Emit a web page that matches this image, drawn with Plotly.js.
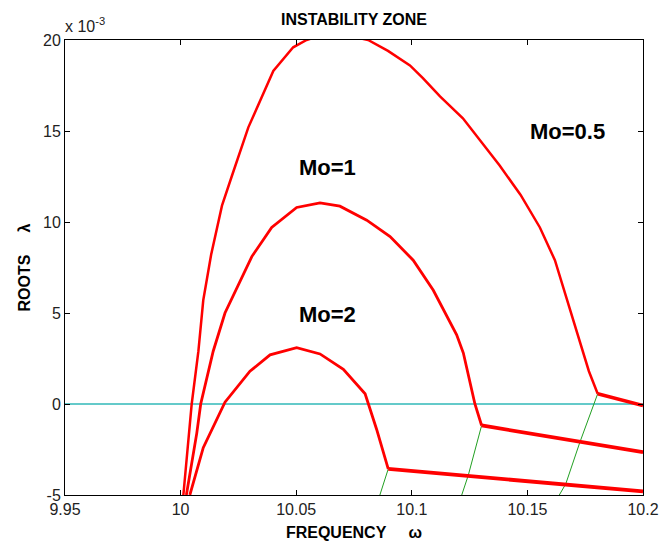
<!DOCTYPE html>
<html>
<head>
<meta charset="utf-8">
<script src="https://cdn.plot.ly/plotly-3.0.1.min.js"></script>
<style>html,body{margin:0;padding:0;background:#fff;}#chart{width:660px;height:545px;}</style>
</head>
<body>
<div id="chart"></div>
<script>
// Frequency (omega) and roots (lambda, in units of 1e-3)
const mo05Omega = [10.0012, 10.0048, 10.0077, 10.0098, 10.0132, 10.0179, 10.0221, 10.0293, 10.0401, 10.0487, 10.0545, 10.062, 10.070, 10.0811, 10.0897, 10.0992, 10.1048, 10.1122, 10.1221, 10.1295, 10.1380, 10.1470, 10.1554, 10.1619, 10.1671, 10.1719, 10.1766, 10.1804];
const mo05Lambda = [-5, 0, 2.9, 5.7, 8.2, 10.9, 12.5, 15.2, 18.3, 19.6, 20.0, 20.3, 20.3, 20.0, 19.4, 18.6, 17.9, 16.9, 15.7, 14.5, 13.1, 11.5, 9.7, 7.9, 5.7, 3.8, 1.8, 0.56];
const mo05TailOmega = [10.1804, 10.2];
const mo05TailLambda = [0.56, -0.08];

const mo1Omega = [10.0025, 10.007, 10.0087, 10.0141, 10.0192, 10.0308, 10.0394, 10.0502, 10.0603, 10.0689, 10.0805, 10.0906, 10.1006, 10.1093, 10.1194, 10.1223, 10.1273, 10.1302];
const mo1Lambda = [-5, -1.6, 0, 2.9, 5.0, 8.1, 9.7, 10.8, 11.05, 10.87, 10.1, 9.2, 7.9, 6.25, 3.8, 2.8, 0, -1.18];
const mo1TailOmega = [10.1302, 10.2];
const mo1TailLambda = [-1.18, -2.65];

const mo2Omega = [10.004, 10.0098, 10.0192, 10.030, 10.0387, 10.0502, 10.0603, 10.0704, 10.0798, 10.0848, 10.0898];
const mo2Lambda = [-5, -2.4, 0.1, 1.8, 2.7, 3.1, 2.75, 1.9, 0.56, -1.4, -3.57];
const mo2TailOmega = [10.0898, 10.2];
const mo2TailLambda = [-3.57, -4.8];

const green1Omega = [10.0898, 10.0862];
const green1Lambda = [-3.57, -5];
const green2Omega = [10.1302, 10.1244, 10.1216];
const green2Lambda = [-1.18, -3.93, -5];
const green3Omega = [10.1804, 10.1727, 10.1666, 10.1638];
const green3Lambda = [0.56, -2.1, -4.39, -5];

const zeroOmega = [9.95, 10.2];
const zeroLambda = [0, 0];

const xTicks = [9.95, 10, 10.05, 10.1, 10.15, 10.2];
const xTickText = ['9.95', '10', '10.05', '10.1', '10.15', '10.2'];
const yTicks = [-5, 0, 5, 10, 15, 20];
const yTickText = ['-5', '0', '5', '10', '15', '20'];

const labelText = ['Mo=0.5', 'Mo=1', 'Mo=2'];
const labelOmega = [10.1503, 10.0503, 10.0503];
const labelLambda = [15.0, 13.0, 4.93];

const RED = '#ff0000', GREEN = '#22a022', CYAN = '#30b8b8';
function line(x, y, color, width) {
  return {x: x, y: y, type: 'scatter', mode: 'lines', line: {color: color, width: width}, hoverinfo: 'skip', showlegend: false};
}
const traces = [
  line(zeroOmega, zeroLambda, CYAN, 1.5),
  line(green1Omega, green1Lambda, GREEN, 1),
  line(green2Omega, green2Lambda, GREEN, 1),
  line(green3Omega, green3Lambda, GREEN, 1),
  line(mo05Omega, mo05Lambda, RED, 2.5),
  line(mo05TailOmega, mo05TailLambda, RED, 3.5),
  line(mo1Omega, mo1Lambda, RED, 2.8),
  line(mo1TailOmega, mo1TailLambda, RED, 3.8),
  line(mo2Omega, mo2Lambda, RED, 2.8),
  line(mo2TailOmega, mo2TailLambda, RED, 3.8)
];

const FONT = 'Liberation Sans, Arial, sans-serif';
const annotations = labelText.map((t, i) => ({
  text: '<b>' + t + '</b>', x: labelOmega[i], y: labelLambda[i], xref: 'x', yref: 'y',
  xanchor: 'left', yanchor: 'middle', showarrow: false,
  font: {family: FONT, size: 22, color: '#000'}
}));
annotations.push({
  text: 'x 10<sup>-3</sup>', xref: 'paper', yref: 'paper', x: 0, y: 1, xanchor: 'left', yanchor: 'bottom',
  xshift: -2, yshift: 3, showarrow: false, font: {family: FONT, size: 16, color: '#222'}
});

const axisCommon = {
  showline: true, linecolor: '#000', linewidth: 1, mirror: 'ticks',
  ticks: 'inside', ticklen: 5, tickcolor: '#000', showgrid: false, zeroline: false,
  tickfont: {family: FONT, size: 16, color: '#222'}, automargin: false
};

const layout = {
  width: 660, height: 545,
  margin: {l: 65, r: 17, t: 40, b: 50},
  paper_bgcolor: '#fff', plot_bgcolor: '#fff',
  title: {text: '<b>INSTABILITY ZONE</b>', x: 0.5, xref: 'paper', y: 0.964, yref: 'container', yanchor: 'middle',
          font: {family: FONT, size: 16, color: '#000'}},
  xaxis: Object.assign({}, axisCommon, {
    range: [9.95, 10.2], tickvals: xTicks, ticktext: xTickText,
    title: {text: '<b>FREQUENCY\u00a0\u00a0\u00a0\u00a0\u00a0ω</b>', standoff: 9, font: {family: FONT, size: 16, color: '#000'}}
  }),
  yaxis: Object.assign({}, axisCommon, {
    range: [-5, 20], tickvals: yTicks, ticktext: yTickText,
    title: {text: '<b>ROOTS\u00a0\u00a0\u00a0\u00a0\u00a0λ</b>', standoff: 8, font: {family: FONT, size: 16, color: '#000'}}
  }),
  annotations: annotations
};

Plotly.newPlot('chart', traces, layout, {displayModeBar: false, staticPlot: true});
</script>
</body>
</html>
